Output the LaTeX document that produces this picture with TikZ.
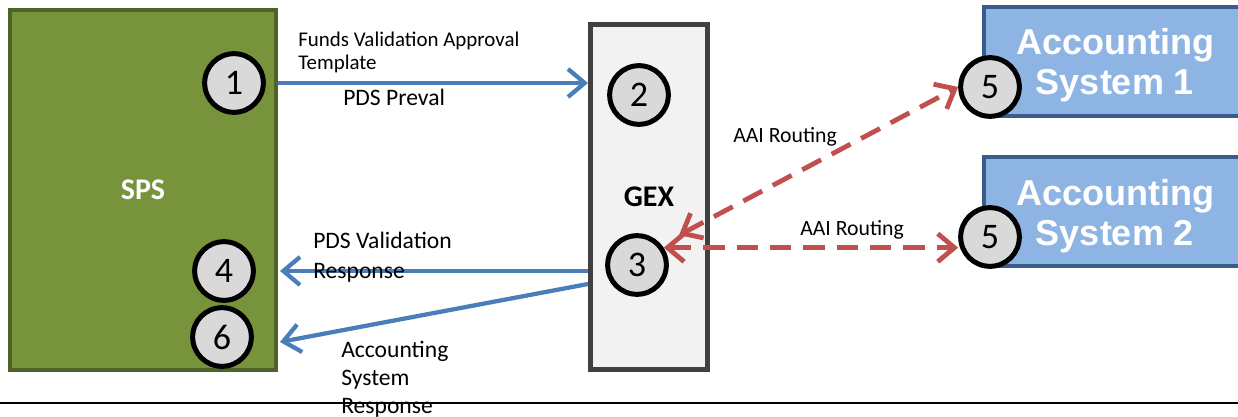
\documentclass[tikz,border=0pt]{standalone}
\usepackage{fontspec}
\setmainfont{Carlito}
\newfontfamily\arialfont{Liberation Sans}
\usetikzlibrary{arrows.meta,calc}
\definecolor{spsfill}{HTML}{77933C}
\definecolor{spsdraw}{HTML}{4F6228}
\definecolor{gexfill}{HTML}{F2F2F2}
\definecolor{gexdraw}{HTML}{404040}
\definecolor{accfill}{HTML}{8EB4E3}
\definecolor{accdraw}{HTML}{385D8A}
\definecolor{bluearr}{HTML}{4A7EBB}
\definecolor{redarr}{HTML}{C0504D}
\definecolor{numfill}{HTML}{D9D9D9}
\begin{document}
\begin{tikzpicture}[x=0.75pt,y=-0.75pt,
  numc/.style={circle,draw=black,fill=numfill,line width=3.75pt,minimum size=44pt,inner sep=0pt,font=\fontsize{27}{30}\selectfont},
  bluecon/.style={draw=bluearr,line width=3.2pt,-{Straight Barb[length=12.5pt,width=21pt]}},
  redcon/.style={draw=redarr,line width=3.6pt,dash pattern=on 16pt off 9pt,{Straight Barb[length=12.5pt,width=21pt]}-{Straight Barb[length=12.5pt,width=21pt]}},
  lbl/.style={inner sep=0pt,align=left,anchor=base west,font=\fontsize{17.7}{22.5}\selectfont},
  aailbl/.style={inner sep=0pt,anchor=base west,font=\fontsize{16.3}{20}\selectfont},
  accbox/.style={draw=accdraw,fill=accfill,line width=3pt,inner sep=0pt,minimum width=207pt,minimum height=81.75pt},
  acctext/.style={inner sep=0pt,align=center,anchor=base,text=white,font=\arialfont\bfseries\fontsize{27}{30}\selectfont}
]
\useasboundingbox (0,0) rectangle (1238,417);
\fill[white] (0,0) rectangle (1238,417);
\clip (0,0) rectangle (1238,417);

% main boxes
\node[draw=spsdraw,fill=spsfill,line width=3pt,minimum width=199.5pt,minimum height=270pt,inner sep=0pt,
      text=white,font=\bfseries\fontsize{22.5}{26}\selectfont] (sps) at (143,190) {SPS};
\node[draw=gexdraw,fill=gexfill,line width=3.75pt,minimum width=87.75pt,minimum height=258.75pt,inner sep=0pt,
      font=\bfseries\fontsize{22.5}{26}\selectfont] (gex) at (649,197) {GEX};
\node[accbox] (acc1) at (1122,61.5) {};
\node[accbox] (acc2) at (1122,211.5) {};
% base anchor of a multi-line node is the baseline of its last line
\node[acctext] (acc1t) at (1115,95) {Accounting\\System 1};
\node[acctext] (acc2t) at (1115,245) {Accounting\\System 2};

% numbered circles
\node[numc] (c1) at (234,83) {1};
\node[numc] (c2) at (639,95) {2};
\node[numc] (c3) at (637,265) {3};
\node[numc] (c4) at (224,271) {4};
\node[numc] (c6) at (222,337) {6};
\node[numc] (c5a) at (990,87) {5};
\node[numc] (c5b) at (990,237) {5};

% blue connectors
\draw[bluecon] (sps.east |- c1) -- (gex.west |- c1);
\draw[bluecon] (gex.west |- c4) -- ($(sps.east |- c4)+(2,0)$);
\draw[bluecon] ($(gex.west |- c4)+(0,13)$) -- ($(sps.east |- c6)+(2,5)$);

% red dashed connectors
\draw[redcon,shorten <=15pt] (c3.40) -- (c5a.west);
\draw[redcon] (c3.33) -- (c5b.west |- c3.33);

% labels
\node[lbl,font=\fontsize{15.7}{17.3}\selectfont] (lfunds) at (298,70) {Funds Validation Approval\\Template};
\node[lbl] (lpre) at (343,106) {PDS Preval};
\node[lbl] (lval) at (313,278) {PDS Validation\\Response};
\node[lbl,font=\fontsize{17.7}{21}\selectfont] (lacc) at (341,413) {Accounting\\System\\Response};
\node[aailbl] (aai1) at (733,143) {AAI Routing};
\node[aailbl] (aai2) at (800,235) {AAI Routing};

% bottom rule
\coordinate (rl) at (0,403);
\coordinate (rr) at (1238,403);
\draw[line width=1.5pt] (rl) -- (rr);
\end{tikzpicture}
\end{document}
